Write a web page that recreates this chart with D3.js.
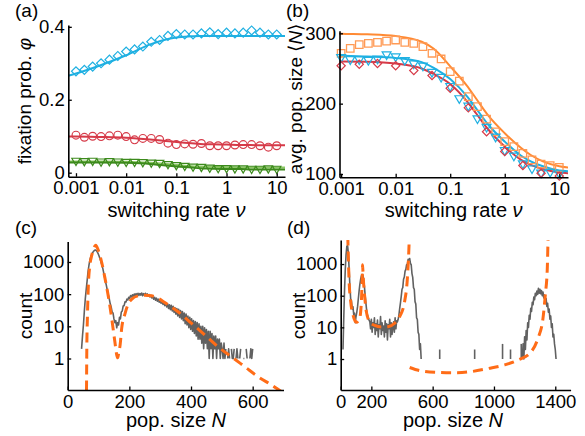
<!DOCTYPE html>
<html>
<head>
<meta charset="utf-8">
<script src="https://cdn.jsdelivr.net/npm/d3@7"></script>
<style>
  body { margin: 0; background: #fff; }
  svg text { font-family: "Liberation Sans", Arial, sans-serif; }
</style>
</head>
<body>
<svg id="chart"></svg>
<script>
// ---- data ----
// switching rates of the simulation points
const nuFine = [0.001, 0.00147, 0.00215, 0.00316, 0.00464, 0.00681, 0.01, 0.0147, 0.0215, 0.0316, 0.0464, 0.0681,
  0.1, 0.147, 0.215, 0.316, 0.464, 0.681, 1, 1.47, 2.15, 3.16, 4.64, 6.81, 10];
const nuCoarse = [0.001, 0.00215, 0.00464, 0.01, 0.0215, 0.0464, 0.1, 0.215, 0.464, 1, 2.15, 4.64, 10];
// switching rates where the theory curves were read
const nuLine = [0.0007, 0.001, 0.003, 0.01, 0.03, 0.05, 0.1, 0.2, 0.3, 0.5, 1, 2, 3, 5, 10, 15];

// (a) fixation probability
const phiDiamond = [0.278, 0.282, 0.291, 0.300, 0.310, 0.320, 0.332, 0.338, 0.346, 0.359, 0.364, 0.375, 0.380,
  0.379, 0.379, 0.382, 0.385, 0.380, 0.384, 0.382, 0.384, 0.390, 0.384, 0.379, 0.379];
const phiCircle = [0.103, 0.097, 0.100, 0.099, 0.101, 0.103, 0.099, 0.090, 0.094, 0.094, 0.091, 0.081, 0.077,
  0.079, 0.078, 0.080, 0.074, 0.074, 0.074, 0.076, 0.077, 0.077, 0.074, 0.070, 0.074];
const phiTriangle = [0.033, 0.032, 0.033, 0.031, 0.032, 0.031, 0.030, 0.030, 0.029, 0.028, 0.027, 0.024, 0.021,
  0.019, 0.017, 0.016, 0.014, 0.013, 0.013, 0.012, 0.012, 0.011, 0.011, 0.012, 0.011];
const phiLineCyan = [0.266, 0.272, 0.294, 0.322, 0.352, 0.362, 0.371, 0.374, 0.375, 0.375, 0.375, 0.375, 0.375, 0.375, 0.375, 0.375];
const phiLineRed = [0.099, 0.099, 0.098, 0.096, 0.091, 0.088, 0.084, 0.081, 0.079, 0.078, 0.077, 0.076, 0.076, 0.075, 0.075, 0.075];
const phiLineGreen = [0.028, 0.028, 0.028, 0.027, 0.024, 0.021, 0.017, 0.014, 0.012, 0.011, 0.010, 0.010, 0.009, 0.009, 0.009, 0.009];
const phiLineGreenLight = [0.031, 0.031, 0.031, 0.030, 0.027, 0.025, 0.021, 0.018, 0.017, 0.016, 0.015, 0.014, 0.014, 0.014, 0.014, 0.014];

// (b) average population size
const popSquare = [271.6, 278.7, 284, 285.8, 287.2, 289, 290.5, 287.2, 285.8, 281, 271.6, 263.5, 245.5, 232, 210,
  195.7, 178, 160, 146, 139, 129.4, 120, 114, 112, 109.5];
const popTriangle = [266, 263, 263, 262, 264, 270, 267, 262, 257, 254, 245, 238, 225, 207.6, 197, 179, 167, 153,
  134, 126, 115, 108, 102, 103, 101];
const popDiamond = [254, 256, 257, 254, 247, 240, 222, 194, 160, 132, 112, 101, 97];
const popLineOrange = [300, 299.5, 298.5, 296, 288, 278, 253, 226, 207, 183, 158, 137, 127, 118, 111, 109];
const popLineCyan = [268, 268, 267, 265, 259, 251, 235, 211, 193, 170, 146, 126, 118, 111, 105, 104];
const popLineRed = [260, 260, 259.5, 257, 250, 242, 228, 204, 186, 163, 139, 120, 113, 107, 102, 101];

// (c) histogram of N, bins of 3 starting at N = 45 (null = empty bin)
const histCStart = 45, histCStep = 3;
const histC = [2, 5, 11, 30, 70, 140, 260, 500, 800, 1150, 1450, 1700, 1950, 2150, 2300, 2350, 2250, 2050, 1800, 1500,
  1250, 1000, 800, 620, 450, 330, 240, 175, 125, 93, 70, 50, 40, 28, 26, 17,
  13, 15, 9, 13, 11, 19, 17, 28, 30, 43, 44, 58, 57, 70, 66, 80, 74, 90, 82, 96, 86, 101, 90, 104, 92, 106, 91, 105,
  93, 108, 90, 104, 92, 106, 90, 102, 88, 97, 82, 92, 76, 86, 70, 80, 65, 75, 60, 70, 56, 66, 52, 62, 48, 58, 44, 55,
  40, 50, 36, 47, 33, 45, 30, 42, 27, 38, 24, 36, 21, 34, 19, 31, 17, 29, 15, 26, 12, 24, 11, 21, 9, 19, 8, 17, 7, 15,
  6, 14, 5, 13, 4, 12, 4, 10, 3, 10, 2, 9, 3, 8, 2, 7, 1, 7, 2, 6, 1, 5, 2, 5, 1, 4, 2, 4, 1, 3,
  2, 1, 3, 1, 2, null, 1, 2, 1, null, 2, 1, 1, 2, null, 1, 2, 1, null, 1, 2, null, null, 1, 1, null, 2, 1, null, null,
  1, 2, 1, 2];
// theory curve (c)
const thCN = [61, 62, 64, 67, 72, 78, 84, 91, 99, 110, 121, 132, 143, 153, 159, 162, 166, 170, 175, 186, 197, 207,
  229, 251, 272, 294, 316, 359, 402, 445, 488, 532, 575, 618, 661, 700];
const thCCount = [0.1, 2, 20, 190, 800, 1600, 2600, 3300, 2340, 1000, 310, 83, 17, 3.3, 1.3, 1.05, 1.6, 2.6, 8.5, 25,
  51, 69, 89, 93, 89, 74, 54, 28, 12.3, 5.4, 2.3, 1.12, 0.55, 0.27, 0.15, 0.085];

// (d) histogram of N, bins of 5
const histDStart = 15, histDStep = 5;
const histD = [2, 20, 150, 700, 2000, 3600, 3800, 2200, 700, 200, 80, 70, 38, 45, 25, 28, 14, 22, 30, 45, 80, 140,
  230, 330, 420, 470, 440, 320, 190, 95, 55, 32, 24, 20, 17,
  15, 9, 18, 7, 14, 10, 20, 6, 13, 8, 17, 5, 12, 9, 22, 6, 14, 8, 11, 5, 16, 7, 13, 4, 12, 9, 18, 5, 14, 6, 10, 15,
  7, 20, 9, 16,
  15, 18, 25, 40, 60, 95, 160, 180, 330, 390, 600, 680, 950, 1000, 1400, 1350, 1500, 1050, 950, 500, 380, 180, 160,
  65, 55, 20, 18, 7, 6, 2, 3, 1];
const histDRightStart = 1185;
const histDRight = [1, 3, 1, 5, 2, 8, 4, 14, 10, 24, 18, 40, 32, 62, 52, 90, 75, 120, 100, 140, 110, 170, 120, 160,
  115, 145, 100, 130, 85, 105, 65, 82, 46, 58, 30, 38, 18, 23, 10, 13, 5, 6, 3, 2, 1];
// single-count bins between the peaks: [N, count]
const histDSingles = [[646, 2], [874, 2], [1056, 3], [1108, 2], [1178, 3]];
// theory curve (d), two branches
const thD1N = [46, 48, 54, 65, 80, 102, 124, 130, 135, 140, 143, 146, 152, 167, 189, 222, 265, 309, 352, 385, 417, 435, 446, 448];
const thD1Count = [8000, 3500, 355, 66, 25, 14.5, 19.5, 30, 66, 300, 950, 450, 174, 32, 15, 11.5, 10.2, 10.5, 13.5,
  22, 66, 355, 4100, 8000];
const thD2N = [450, 526, 635, 743, 852, 961, 1070, 1157, 1243, 1287, 1320, 1335, 1348, 1353];
const thD2Count = [0.54, 0.42, 0.38, 0.37, 0.4, 0.5, 0.65, 0.93, 1.7, 4.5, 19.5, 107, 740, 8000];

// ticks
const ticksNu = [0.001, 0.01, 0.1, 1, 10];
const ticksNuLabels = ["0.001", "0.01", "0.1", "1", "10"];
const ticksPhi = [0, 0.2, 0.4];
const ticksPhiLabels = ["0", "0.2", "0.4"];
const ticksPop = [100, 200, 300];
const ticksCount = [1, 10, 100, 1000];
const ticksNC = [0, 200, 400, 600];
const ticksND = [0, 200, 600, 1000, 1400];

// ---- colours ----
const cCyan = "#1fb0e2", cRed = "#d63a48", cGreen = "#3c8a1c", cGreenLight = "#8cc864";
const cOrange = "#ff8a33", cOrangeMark = "#ff9a55", cDash = "#ff6c17", cGray = "#616161";
const font = "'Liberation Sans', Arial, sans-serif";

const width = 585, height = 436;
const svg = d3.select("#chart").attr("width", width).attr("height", height)
  .style("font-family", font);
const defs = svg.append("defs");

// scales
const xA = d3.scaleLog().domain([Math.pow(10, -3.153), Math.pow(10, 1.165)]).range([68.3, 285]);
const yA = d3.scaleLinear().domain([-0.011, 0.405]).range([176.7, 25]);
const xB = d3.scaleLog().domain([Math.pow(10, -3.03), Math.pow(10, 1.16)]).range([339.5, 568]);
const yB = d3.scaleLinear().domain([95.3, 303.7]).range([177.3, 30.7]);
const xC = d3.scaleLinear().domain([0, 700]).range([67.7, 283.5]);
const yC = d3.scaleLog().domain([0.105, 4300]).range([390, 241.6]);
const xD = d3.scaleLinear().domain([0, 1500]).range([340.7, 570.6]);
const yD = d3.scaleLog().domain([0.105, 5750]).range([390, 240]);

function clipFor(id, x, y) {
  defs.append("clipPath").attr("id", id)
    .append("rect")
    .attr("x", x.range()[0]).attr("y", y.range()[1])
    .attr("width", x.range()[1] - x.range()[0])
    .attr("height", y.range()[0] - y.range()[1]);
  return `url(#${id})`;
}

function drawAxes(x, y, xt, xl, yt, yl) {
  const gx = svg.append("g")
    .attr("transform", `translate(0, ${y.range()[0]})`)
    .call(d3.axisBottom(x).tickValues(xt).tickFormat((d, i) => xl[i])
      .tickSizeInner(-3.5).tickSizeOuter(0).tickPadding(4.5));
  const gy = svg.append("g")
    .attr("transform", `translate(${x.range()[0]}, 0)`)
    .call(d3.axisLeft(y).tickValues(yt).tickFormat((d, i) => yl[i])
      .tickSizeInner(-3.5).tickSizeOuter(0).tickPadding(3.5));
  [gx, gy].forEach(g => {
    g.attr("font-size", 18.5).attr("font-family", null);
    g.select(".domain").attr("stroke-width", 1.6);
    g.selectAll(".tick line").attr("stroke-width", 1.3);
  });
}

function lineLog(x, y) {
  return d3.line().x(d => x(d[0])).y(d => y(d[1])).curve(d3.curveMonotoneX);
}

// ---- panel (a) ----
const clipA = clipFor("clipA", xA, yA);
const lineA = lineLog(xA, yA);
[[phiLineGreenLight, cGreenLight], [phiLineGreen, cGreen], [phiLineRed, cRed], [phiLineCyan, cCyan]].forEach(s => {
  svg.append("path")
    .datum(nuLine.map((v, i) => [v, s[0][i]]))
    .attr("clip-path", clipA)
    .attr("fill", "none").attr("stroke", s[1]).attr("stroke-width", 2)
    .attr("d", lineA);
});

svg.selectAll(".diamA")
  .data(nuFine.map((v, i) => [v, phiDiamond[i]]))
  .enter().append("path")
  .attr("class", "diamA")
  .attr("d", d3.symbol(d3.symbolSquare, 40))
  .attr("transform", d => `translate(${xA(d[0])}, ${yA(d[1])}) rotate(45)`)
  .attr("fill", "none").attr("stroke", cCyan).attr("stroke-width", 1.2);

svg.selectAll(".circA")
  .data(nuFine.map((v, i) => [v, phiCircle[i]]))
  .enter().append("circle")
  .attr("class", "circA")
  .attr("cx", d => xA(d[0])).attr("cy", d => yA(d[1])).attr("r", 3.9)
  .attr("fill", "none").attr("stroke", cRed).attr("stroke-width", 1.2);

svg.selectAll(".triA")
  .data(nuFine.map((v, i) => [v, phiTriangle[i]]))
  .enter().append("path")
  .attr("class", "triA")
  .attr("d", d3.symbol(d3.symbolTriangle, 30))
  .attr("transform", d => `translate(${xA(d[0])}, ${yA(d[1])}) rotate(180)`)
  .attr("fill", "none").attr("stroke", cGreen).attr("stroke-width", 1.2);

drawAxes(xA, yA, ticksNu, ticksNuLabels, ticksPhi, ticksPhiLabels);

// ---- panel (b) ----
const clipB = clipFor("clipB", xB, yB);
const lineB = lineLog(xB, yB);
[[popLineRed, cRed], [popLineCyan, cCyan], [popLineOrange, cOrange]].forEach(s => {
  svg.append("path")
    .datum(nuLine.map((v, i) => [v, s[0][i]]))
    .attr("clip-path", clipB)
    .attr("fill", "none").attr("stroke", s[1]).attr("stroke-width", 2)
    .attr("d", lineB);
});

svg.selectAll(".sqB")
  .data(nuFine.map((v, i) => [v, popSquare[i]]))
  .enter().append("path")
  .attr("class", "sqB")
  .attr("d", d3.symbol(d3.symbolSquare, 56))
  .attr("transform", d => `translate(${xB(d[0])}, ${yB(d[1])})`)
  .attr("fill", "none").attr("stroke", cOrangeMark).attr("stroke-width", 1.3);

svg.selectAll(".triB")
  .data(nuFine.map((v, i) => [v, popTriangle[i]]))
  .enter().append("path")
  .attr("class", "triB")
  .attr("d", d3.symbol(d3.symbolTriangle, 34))
  .attr("transform", d => `translate(${xB(d[0])}, ${yB(d[1])}) rotate(180)`)
  .attr("fill", "none").attr("stroke", cCyan).attr("stroke-width", 1.2);

svg.selectAll(".diamB")
  .data(nuCoarse.map((v, i) => [v, popDiamond[i]]))
  .enter().append("path")
  .attr("class", "diamB")
  .attr("d", d3.symbol(d3.symbolSquare, 34))
  .attr("transform", d => `translate(${xB(d[0])}, ${yB(d[1])}) rotate(45)`)
  .attr("fill", "none").attr("stroke", cRed).attr("stroke-width", 1.2);

drawAxes(xB, yB, ticksNu, ticksNuLabels, ticksPop, ticksPop.map(String));

// ---- panel (c) ----
const clipC = clipFor("clipC", xC, yC);
const histLineC = d3.line()
  .defined(d => d[1] != null)
  .x(d => xC(d[0])).y(d => yC(d[1]));
svg.append("path")
  .datum(histC.map((c, i) => [histCStart + i * histCStep, c]))
  .attr("clip-path", clipC)
  .attr("fill", "none").attr("stroke", cGray).attr("stroke-width", 1.6)
  .attr("stroke-linejoin", "round")
  .attr("d", histLineC);
svg.append("path")
  .datum(thCN.map((n, i) => [n, thCCount[i]]))
  .attr("clip-path", clipC)
  .attr("fill", "none").attr("stroke", cDash).attr("stroke-width", 3)
  .attr("stroke-dasharray", "10,6")
  .attr("d", lineLog(xC, yC));

drawAxes(xC, yC, ticksNC, ticksNC.map(String), ticksCount, ticksCount.map(String));

// ---- panel (d) ----
const clipD = clipFor("clipD", xD, yD);
const histLineD = d3.line()
  .defined(d => d[1] != null)
  .x(d => xD(d[0])).y(d => yD(d[1]));
svg.append("path")
  .datum(histD.map((c, i) => [histDStart + i * histDStep, c]))
  .attr("clip-path", clipD)
  .attr("fill", "none").attr("stroke", cGray).attr("stroke-width", 1.6)
  .attr("stroke-linejoin", "round")
  .attr("d", histLineD);
svg.append("path")
  .datum(histDRight.map((c, i) => [histDRightStart + i * histDStep, c]))
  .attr("clip-path", clipD)
  .attr("fill", "none").attr("stroke", cGray).attr("stroke-width", 1.6)
  .attr("stroke-linejoin", "round")
  .attr("d", histLineD);
svg.selectAll(".singleD")
  .data(histDSingles)
  .enter().append("line")
  .attr("class", "singleD")
  .attr("x1", d => xD(d[0])).attr("x2", d => xD(d[0]))
  .attr("y1", yD(1)).attr("y2", d => yD(d[1]))
  .attr("stroke", cGray).attr("stroke-width", 1.6);
[[thD1N, thD1Count], [thD2N, thD2Count]].forEach(s => {
  svg.append("path")
    .datum(s[0].map((n, i) => [n, s[1][i]]))
    .attr("clip-path", clipD)
    .attr("fill", "none").attr("stroke", cDash).attr("stroke-width", 3)
    .attr("stroke-dasharray", "10,6")
    .attr("d", lineLog(xD, yD));
});

drawAxes(xD, yD, ticksND, ticksND.map(String), ticksCount, ticksCount.map(String));

// ---- titles and panel letters ----
function xTitle(cx, y, words, sym) {
  const t = svg.append("text").attr("x", cx).attr("y", y)
    .attr("text-anchor", "middle").attr("font-size", 20);
  t.append("tspan").text(words);
  t.append("tspan").attr("font-style", "italic").text(sym);
}
function yTitle(x, cy, parts) {
  const t = svg.append("text")
    .attr("transform", `translate(${x}, ${cy}) rotate(-90)`)
    .attr("text-anchor", "middle").attr("font-size", 19);
  parts.forEach(p => t.append("tspan").attr("font-style", p[1] ? "italic" : "normal").text(p[0]));
}

xTitle(176.5, 217, "switching rate ", "ν");
xTitle(453.7, 217, "switching rate ", "ν");
xTitle(176, 427, "pop. size ", "N");
xTitle(453, 427, "pop. size ", "N");

yTitle(31, 101, [["fixation prob. ", false], ["φ", true]]);
yTitle(302, 99, [["avg. pop. size ⟨", false], ["N", true], ["⟩", false]]);
yTitle(31.5, 316, [["count", false]]);
yTitle(304.5, 316, [["count", false]]);

[["(a)", 15, 17], ["(b)", 286, 17], ["(c)", 15, 234], ["(d)", 287, 234]].forEach(l => {
  svg.append("text").attr("x", l[1]).attr("y", l[2]).attr("font-size", 19).text(l[0]);
});
</script>
</body>
</html>
